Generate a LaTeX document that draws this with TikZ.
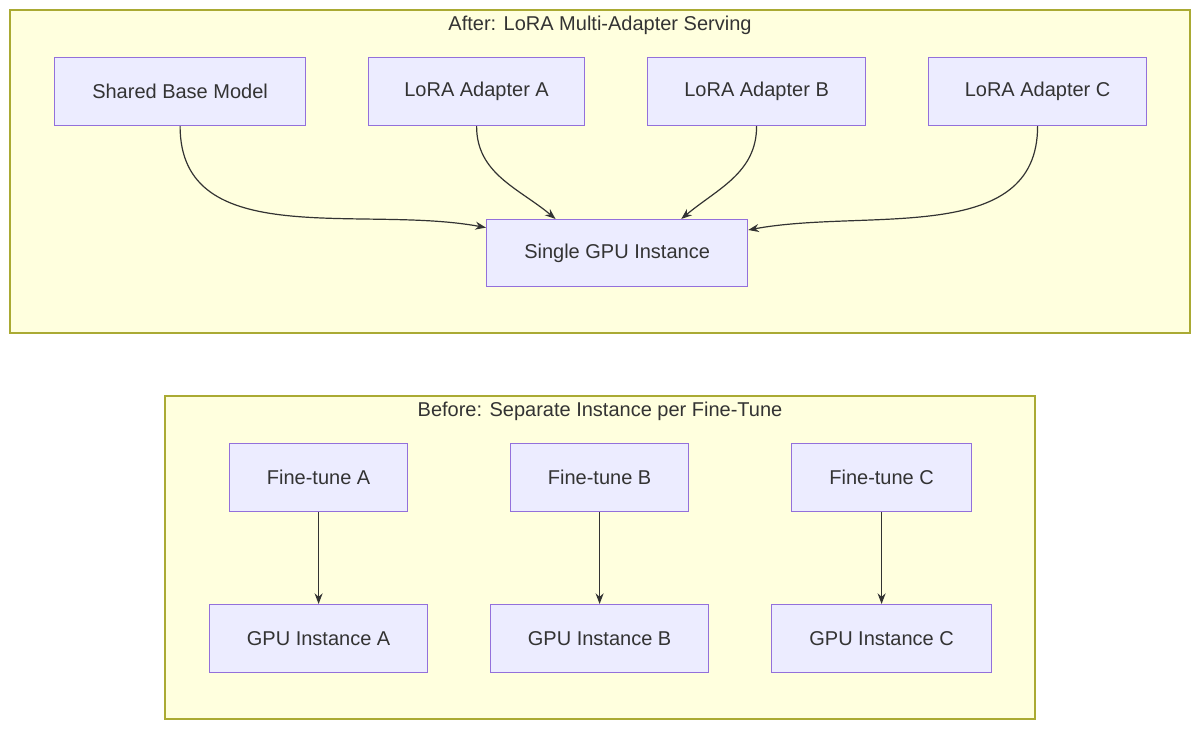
\documentclass[tikz,border=0pt]{standalone}
\usepackage{fontspec}
\setmainfont{Liberation Sans}
\usetikzlibrary{arrows.meta}
\definecolor{clusterfill}{HTML}{FFFFDE}
\definecolor{clusterline}{HTML}{AAAA33}
\definecolor{boxfill}{HTML}{ECECFF}
\definecolor{boxline}{HTML}{9370DB}
\definecolor{ink}{HTML}{333333}
\tikzset{
  cluster/.style={draw=clusterline, fill=clusterfill, line width=0.9pt},
  stagebox/.style={draw=boxline, fill=boxfill, line width=0.9pt, text=ink,
    font=\fontsize{15}{18}\selectfont, inner sep=0pt, anchor=north west},
  link/.style={draw=ink, line width=0.9pt, -{Stealth[length=8pt,width=6pt]}}
}
\begin{document}
\begin{tikzpicture}[x=0.75pt, y=-0.75pt]
  \useasboundingbox (0,0) rectangle (1200,729);
  % clusters
  \draw[cluster] (10,10) rectangle (1190,333);
  \node[text=ink, font=\fontsize{15}{18}\selectfont] (aftertitle) at (600,25) {After: LoRA Multi-Adapter Serving};
  \draw[cluster] (165,396) rectangle (1035,719);
  \node[text=ink, font=\fontsize{15}{18}\selectfont] (beforetitle) at (600,411) {Before: Separate Instance per Fine-Tune};

  % after: adapters and shared GPU
  \foreach \name/\x/\w/\txt in {base/54/251/Shared Base Model, adA/368/216/LoRA Adapter A,
      adB/647/218/LoRA Adapter B, adC/928/218/LoRA Adapter C} {
    \node[stagebox, minimum width=\w*0.75pt, minimum height=51pt] (\name) at (\x,57) {\txt};
  }
  \node[stagebox, minimum width=195.75pt, minimum height=50.25pt] (gpu) at (486,219) {Single GPU Instance};

  \draw[link] (base.south) to[out=-90, in=169.5] (gpu.169.5);
  \draw[link] (adA.south) to[out=-90, in=140] (gpu.151.2);
  \draw[link] (adB.south) to[out=-90, in=40] (gpu.28.8);
  \draw[link] (adC.south) to[out=-90, in=10.5] (gpu.10.4);

  % before: one GPU per fine-tune
  \foreach \k/\xa/\wa/\xb/\wb in {A/229/178/209/218, B/510/178/490/218, C/791/180/771/220} {
    \node[stagebox, minimum width=\wa*0.75pt, minimum height=51pt] (ft\k) at (\xa,443) {Fine-tune \k};
    \node[stagebox, minimum width=\wb*0.75pt, minimum height=51pt] (gi\k) at (\xb,604) {GPU Instance \k};
    \draw[link] (ft\k.south) -- (gi\k.north);
  }
\end{tikzpicture}
\end{document}
